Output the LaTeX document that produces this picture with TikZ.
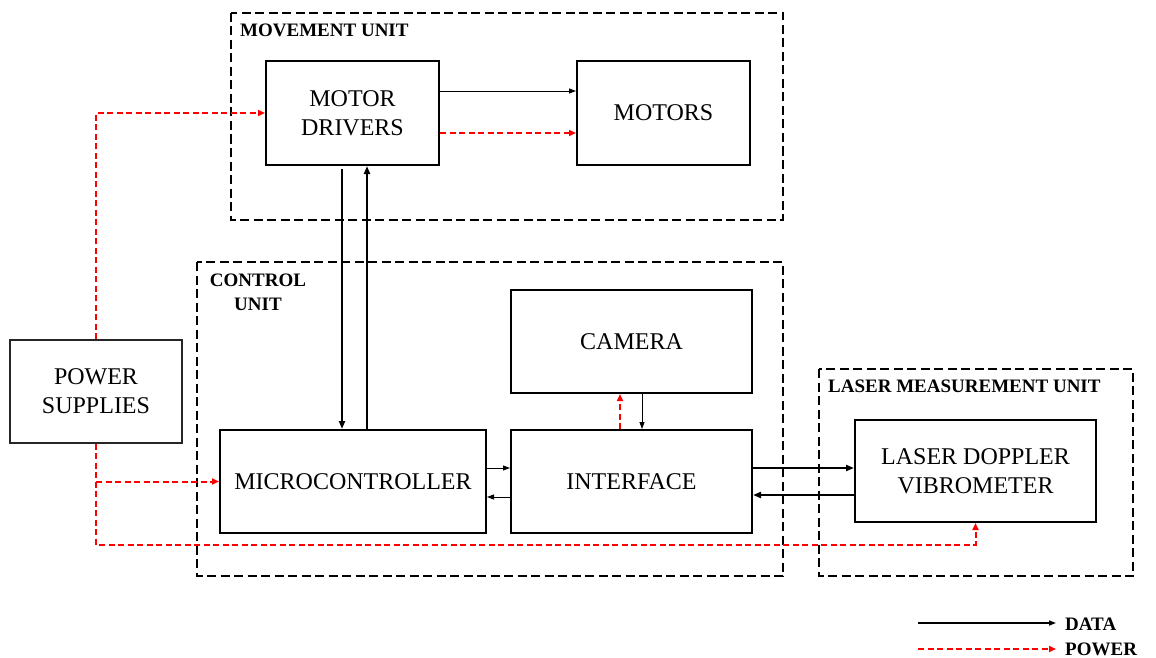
\documentclass[tikz,border=0pt]{standalone}
\usepackage{fontspec}
\setmainfont{Liberation Serif}
\usetikzlibrary{arrows.meta,calc}
\begin{document}
\begin{tikzpicture}[x=1pt,y=-1pt,
  box/.style={draw=black,line width=2pt,rectangle,inner sep=0pt,align=center,
     font=\fontsize{24}{29}\selectfont},
  psbox/.style={draw=black!85,line width=1.3pt,rectangle,inner sep=0pt,align=center,
     font=\fontsize{24}{29}\selectfont},
  unit/.style={draw=black,line width=2pt,dash pattern=on 9pt off 4.5pt},
  unitlabel/.style={inner sep=0pt,font=\bfseries\fontsize{19}{24}\selectfont,align=center},
  thindata/.style={draw=black,line width=0.9pt,-{Triangle[length=7pt,width=5pt]}},
  thickdata/.style={draw=black,line width=2pt,-{Triangle[length=8pt,width=6pt]}},
  power/.style={draw=red,line width=2pt,dash pattern=on 6pt off 3.5pt,-{Triangle[length=7pt,width=6pt]}},
  powerline/.style={draw=red,line width=2pt,dash pattern=on 6pt off 3.5pt}
]
\useasboundingbox (0,0) rectangle (1156,658);

% unit frames
\draw[unit] (231,13) rectangle (783,220);
\draw[unit] (197,262) rectangle (783,576);
\draw[unit] (819,369) rectangle (1133,576);
\node[unitlabel,anchor=base west] (lmov) at (240,37) {MOVEMENT UNIT};
\node[unitlabel,anchor=north] (lctl) at (258,274) {CONTROL\\UNIT};
\node[unitlabel,anchor=base west] (llas) at (828,392) {LASER MEASUREMENT UNIT};

% boxes
\node[box,minimum width=173pt,minimum height=104pt] (md) at (352.5,113) {MOTOR\\DRIVERS};
\node[box,minimum width=173pt,minimum height=104pt] (mot) at (663.5,113) {MOTORS};
\node[box,minimum width=241pt,minimum height=103pt] (cam) at (631.5,341.5) {CAMERA};
\node[box,minimum width=266pt,minimum height=103pt] (mc) at (353,481.5) {MICROCONTROLLER};
\node[box,minimum width=241pt,minimum height=103pt] (ifc) at (631.5,481.5) {INTERFACE};
\node[box,minimum width=241pt,minimum height=102pt] (ldv) at (975.5,471) {LASER DOPPLER\\VIBROMETER};
\node[psbox,minimum width=172pt,minimum height=103pt] (ps) at (96,391.5) {POWER\\SUPPLIES};

% movement unit connectors
\draw[thindata] (md.east |- 0,91) -- (mot.west |- 0,91);
\draw[power] (md.east |- 0,133) -- (mot.west |- 0,133);

% motor drivers <-> microcontroller
\draw[thickdata,shorten <=3pt] (md.south -| 342,0) -- (mc.north -| 342,0);
\draw[thickdata] (mc.north -| 367,0) -- (md.south -| 367,0);

% camera <-> interface
\draw[power] (ifc.north -| 620,0) -- (cam.south -| 620,0);
\draw[thindata] (cam.south -| 642,0) -- (ifc.north -| 642,0);

% microcontroller <-> interface
\draw[thindata] (mc.east |- 0,468) -- (ifc.west |- 0,468);
\draw[thindata] (ifc.west |- 0,497) -- (mc.east |- 0,497);

% interface <-> LDV
\draw[thickdata,line width=2.4pt] (ifc.east |- 0,468) -- (ldv.west |- 0,468);
\draw[thickdata,line width=2.4pt] (ldv.west |- 0,495) -- (ifc.east |- 0,495);

% power distribution
\draw[power] (ps.north) |- (md.west);
\coordinate (pb) at (96,545);
\draw[power] (ps.south) -- (pb) -| (ldv.south);
\draw[power] (ps.south |- mc.west) -- (mc.west);

% legend
\coordinate (l1s) at (918,623);
\coordinate (l1e) at (1056,623);
\coordinate (l2s) at (918,649);
\coordinate (l2e) at (1056,649);
\draw[thindata,line width=1.5pt] (l1s) -- (l1e);
\draw[power,line width=1.8pt] (l2s) -- (l2e);
\node[unitlabel,anchor=base west] (ldata) at (1065,630) {DATA};
\node[unitlabel,anchor=base west] (lpow) at (1065,655) {POWER};
\end{tikzpicture}
\end{document}
